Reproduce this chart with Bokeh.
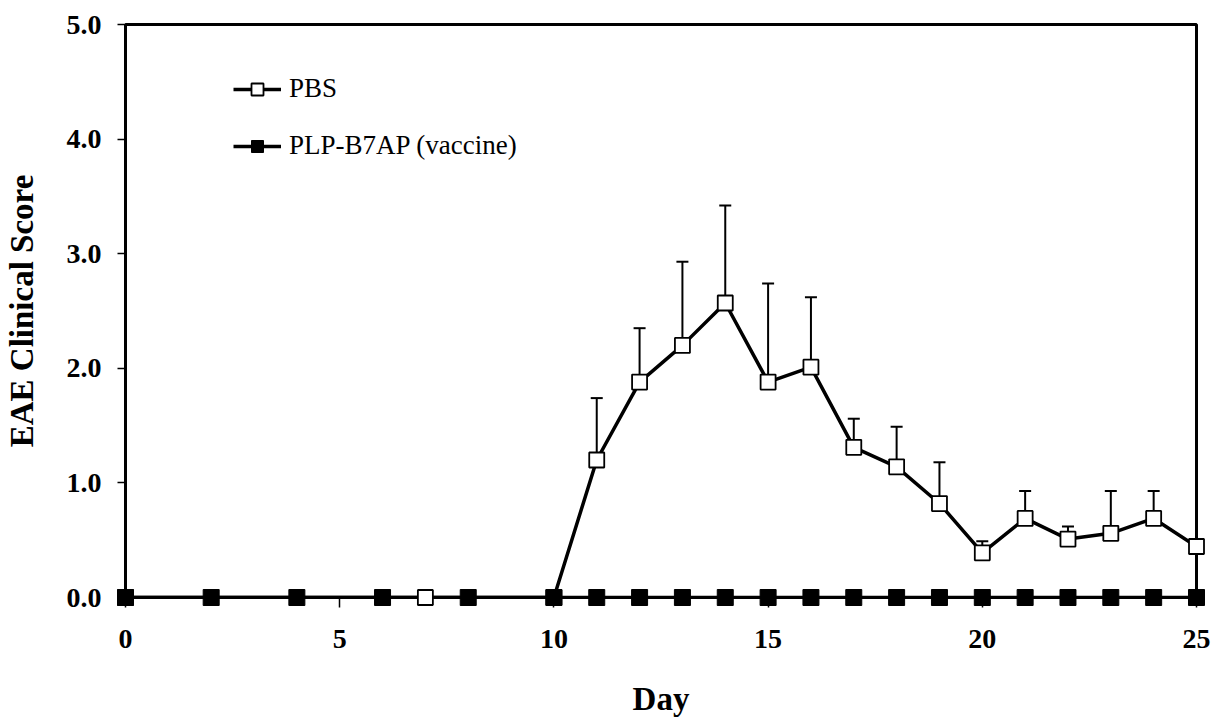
from bokeh.plotting import figure
from bokeh.models import Range1d, FixedTicker, NumeralTickFormatter, Legend, LegendItem, ColumnDataSource
from bokeh.embed import file_html
from bokeh.resources import INLINE

# ---- data ----
pbs_days = [0, 7, 10, 11, 12, 13, 14, 15, 16, 17, 18, 19, 20, 21, 22, 23, 24, 25]
pbs_score = [0, 0, 0, 1.20, 1.88, 2.20, 2.57, 1.88, 2.01, 1.31, 1.14, 0.82, 0.39, 0.69, 0.51, 0.56, 0.69, 0.445]
err_days = [11, 12, 13, 14, 15, 16, 17, 18, 19, 20, 21, 22, 23, 24]
err_mean = [1.20, 1.88, 2.20, 2.57, 1.88, 2.01, 1.31, 1.14, 0.82, 0.39, 0.69, 0.51, 0.56, 0.69]
err_up = [0.54, 0.47, 0.73, 0.85, 0.86, 0.61, 0.25, 0.35, 0.36, 0.10, 0.24, 0.11, 0.37, 0.24]
vac_days = [0, 2, 4, 6, 8, 10, 11, 12, 13, 14, 15, 16, 17, 18, 19, 20, 21, 22, 23, 24, 25]
vac_score = [0] * len(vac_days)
x_ticks = [0, 5, 10, 15, 20, 25]
y_ticks = [0, 1, 2, 3, 4, 5]

FONT = "'Liberation Serif', 'Times New Roman', serif"

p = figure(frame_width=1071, frame_height=573, output_backend="svg", toolbar_location=None,
           x_range=Range1d(0, 25), y_range=Range1d(0, 5),
           min_border_left=124, min_border_right=18, min_border_top=24, min_border_bottom=124)
p.grid.visible = False
p.outline_line_color = "black"
p.outline_line_width = 3

for ax in (p.xaxis[0], p.yaxis[0]):
    ax.axis_line_width = 3
    ax.major_tick_line_width = 1.5
    ax.major_tick_in = 0
    ax.minor_tick_line_color = None
    ax.major_label_text_font = FONT
    ax.major_label_text_font_style = "bold"
    ax.major_label_text_font_size = "28px"
    ax.major_label_text_color = "black"
    ax.axis_label_text_font = FONT
    ax.axis_label_text_font_style = "bold"
    ax.axis_label_text_font_size = "33px"
    ax.axis_label_text_color = "black"

p.xaxis.ticker = FixedTicker(ticks=x_ticks)
p.yaxis.ticker = FixedTicker(ticks=y_ticks)
p.yaxis.formatter = NumeralTickFormatter(format="0.0")
p.xaxis.major_tick_out = 10
p.yaxis.major_tick_out = 8
p.xaxis.major_label_standoff = 22
p.yaxis.major_label_standoff = 16
p.xaxis.axis_label = "Day"
p.yaxis.axis_label = "EAE Clinical Score"
p.xaxis.axis_label_standoff = 30
p.yaxis.axis_label_standoff = 24

# error bars (upper only)
tops = [m + e for m, e in zip(err_mean, err_up)]
esrc = ColumnDataSource(dict(x=err_days, y0=err_mean, y1=tops))
p.segment(x0="x", y0="y0", x1="x", y1="y1", source=esrc, line_color="black", line_width=2)
p.scatter(x="x", y="y1", source=esrc, marker="dash", size=12, line_color="black", line_width=2)

# PBS
pbs_line = p.line(pbs_days, pbs_score, line_color="black", line_width=3.5)
pbs_pts = p.scatter(pbs_days, pbs_score, marker="square", size=15, fill_color="white",
                    line_color="black", line_width=1.8, level="overlay")
# vaccine
vac_line = p.line(vac_days, vac_score, line_color="black", line_width=3.5)
vac_pts = p.scatter(vac_days, vac_score, marker="square", size=16, fill_color="black",
                    line_color="black", line_width=1, level="overlay")

legend = Legend(items=[LegendItem(label="PBS", renderers=[pbs_line, pbs_pts]),
                       LegendItem(label="PLP-B7AP (vaccine)", renderers=[vac_line, vac_pts])],
                location=(108, 436), border_line_color=None, background_fill_alpha=0,
                padding=0, margin=0, glyph_width=48, glyph_height=30, spacing=26,
                label_standoff=8, label_text_font=FONT, label_text_font_size="27px",
                label_text_color="black")
p.add_layout(legend)

open("out.html", "w").write(file_html(p, INLINE))
